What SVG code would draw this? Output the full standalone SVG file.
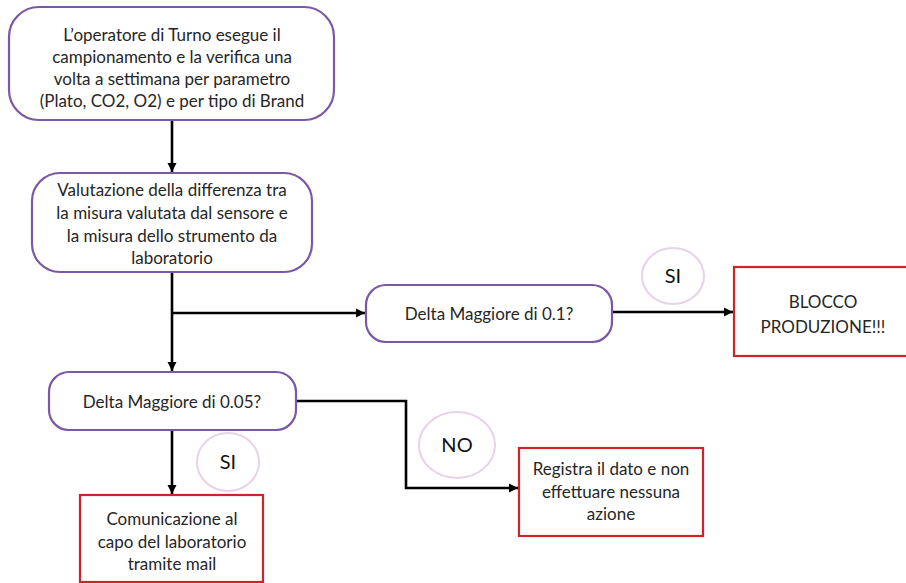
<svg xmlns="http://www.w3.org/2000/svg" width="906" height="583" viewBox="0 0 906 583">
<style>
.t{font-family:Lato,"Open Sans","Liberation Sans",sans-serif;font-size:17px;fill:#262626;text-anchor:middle}
.lbl{font-family:Lato,"Open Sans","Liberation Sans",sans-serif;font-size:20px;fill:#111;text-anchor:middle}
.p{fill:#fff;stroke:#7a58a6;stroke-width:2.2}
.r{fill:#fff;stroke:#cc2428;stroke-width:2.2}
.c{fill:#fff;stroke:#e6d3e6;stroke-width:2}
.e{fill:none;stroke:#000;stroke-width:2.6;marker-end:url(#ah)}
</style>
<defs>
<marker id="ah" viewBox="0 0 10 10" refX="10" refY="5" markerWidth="3.6" markerHeight="3.6" orient="auto" markerUnits="strokeWidth">
<path d="M0,0 L10,5 L0,10 z" fill="#000"/>
</marker>
</defs>
<rect width="906" height="583" fill="#fff"/>
<g id="connectors">
<path class="e" d="M172,120 V172"/>
<path class="e" d="M172,272 V371"/>
<path class="e" d="M172,313 H365"/>
<path class="e" d="M612,312 H733"/>
<path class="e" d="M296,401 H406 V488 H518"/>
<path class="e" d="M172,430 V494"/>
</g>
<g id="n1">
<rect class="p" x="9" y="7" width="325" height="113" rx="30"/>
<text class="t" x="172" y="41">L’operatore di Turno esegue il</text>
<text class="t" x="172" y="63">campionamento e la verifica una</text>
<text class="t" x="172" y="85">volta a settimana per parametro</text>
<text class="t" x="172" y="107">(Plato, CO2, O2) e per tipo di Brand</text>
</g>
<g id="n2">
<rect class="p" x="32" y="173" width="280" height="99" rx="28"/>
<text class="t" x="172" y="196">Valutazione della differenza tra</text>
<text class="t" x="172" y="219">la misura valutata dal sensore e</text>
<text class="t" x="172" y="242">la misura dello strumento da</text>
<text class="t" x="172" y="264">laboratorio</text>
</g>
<g id="n3">
<rect class="p" x="366" y="285" width="246" height="57" rx="20"/>
<text class="t" x="489" y="320">Delta Maggiore di 0.1?</text>
</g>
<g id="n4">
<rect class="r" x="734" y="267" width="190" height="89"/>
<text class="t" x="823" y="308">BLOCCO</text>
<text class="t" x="823" y="333">PRODUZIONE!!!</text>
</g>
<g id="n5">
<rect class="p" x="49" y="372" width="247" height="58" rx="20"/>
<text class="t" x="172" y="408">Delta Maggiore di 0.05?</text>
</g>
<g id="n6">
<rect class="r" x="519" y="448" width="184" height="88"/>
<text class="t" x="611" y="475">Registra il dato e non</text>
<text class="t" x="611" y="498">effettuare nessuna</text>
<text class="t" x="611" y="520">azione</text>
</g>
<g id="n7">
<rect class="r" x="80" y="495" width="183" height="87"/>
<text class="t" x="172" y="525">Comunicazione al</text>
<text class="t" x="172" y="548">capo del laboratorio</text>
<text class="t" x="172" y="570">tramite mail</text>
</g>
<g id="l1">
<ellipse class="c" cx="673" cy="276" rx="31" ry="28"/>
<text class="lbl" x="673" y="283">SI</text>
</g>
<g id="l2">
<ellipse class="c" cx="457" cy="445" rx="38" ry="33"/>
<text class="lbl" x="457" y="452">NO</text>
</g>
<g id="l3">
<ellipse class="c" cx="228" cy="462" rx="31" ry="29"/>
<text class="lbl" x="228" y="469">SI</text>
</g>
</svg>
